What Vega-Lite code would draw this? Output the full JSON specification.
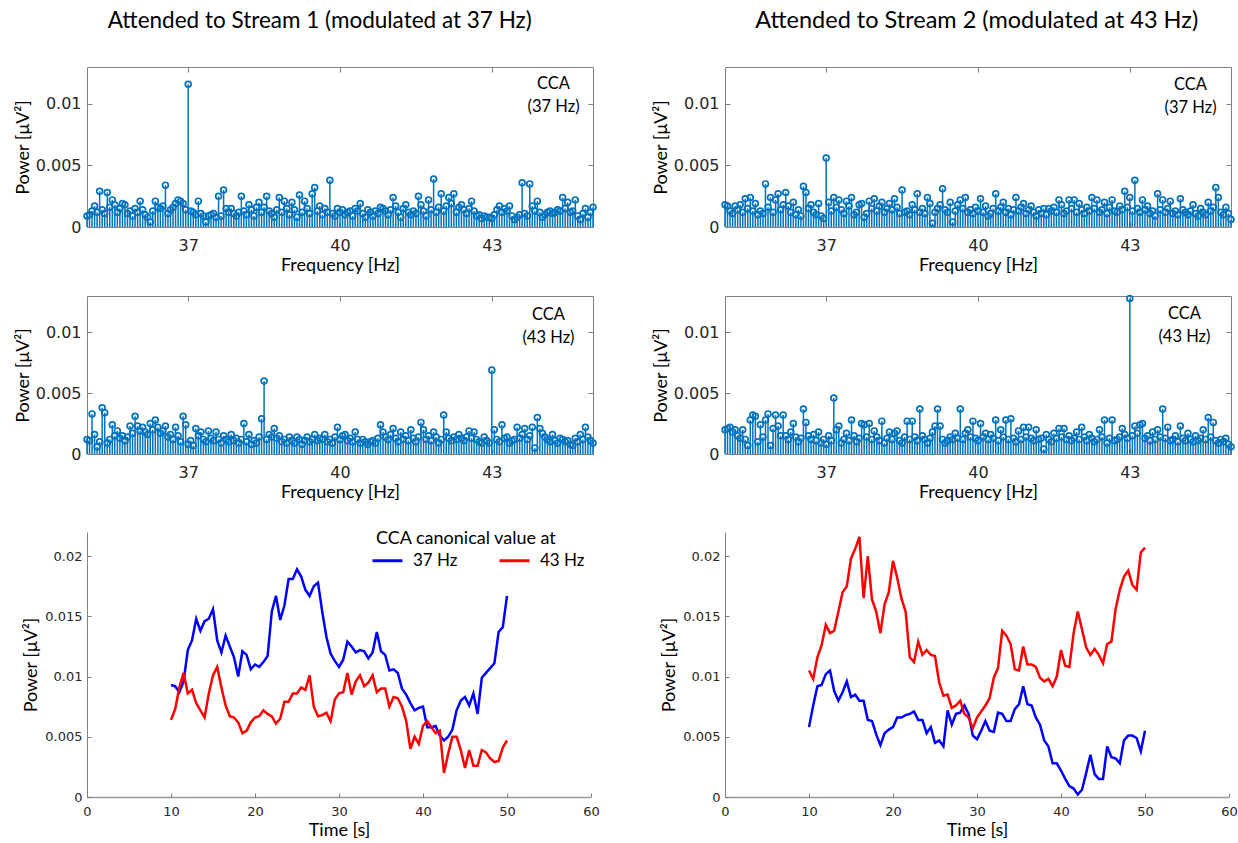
{
"$schema":"https://vega.github.io/schema/vega-lite/v6.json",
"background":"white",
"padding":{"left":13,"top":8,"right":4,"bottom":4},
"config":{"view":{"stroke":null},
"axis":{"labelFont":"DejaVu Sans","labelColor":"#262626","titleFont":"Lato","titleFontWeight":"normal","titleColor":"#000000","domainColor":"#808080","tickColor":"#808080","grid":false,"labelFlush":false},
"legend":{"titleFont":"Lato","labelFont":"Lato"},
"title":{"font":"Lato","fontWeight":"normal","fontSize":22.5,"color":"#000000"},
"text":{"font":"Lato","fontSize":16.5,"lineBreak":"\n","lineHeight":23,"align":"center","baseline":"alphabetic","color":"#000000"}},
"resolve":{"scale":{"color":"independent"},"legend":{"color":"independent"}},
"datasets":{
"stems":[
{"f":35,"a":0.0009,"b":0.0012,"c":0.0018,"d":0.002},
{"f":35.05,"a":0.001,"b":0.0011,"c":0.0017,"d":0.0021},
{"f":35.1,"a":0.0013,"b":0.0033,"c":0.0013,"d":0.0022},
{"f":35.15,"a":0.0017,"b":0.0016,"c":0.0011,"d":0.0018},
{"f":35.2,"a":0.0012,"b":0.0006,"c":0.0017,"d":0.002},
{"f":35.25,"a":0.0029,"b":0.001,"c":0.0014,"d":0.0015},
{"f":35.3,"a":0.0014,"b":0.0038,"c":0.0018,"d":0.0013},
{"f":35.35,"a":0.0011,"b":0.0034,"c":0.0012,"d":0.002},
{"f":35.4,"a":0.0028,"b":0.0009,"c":0.0023,"d":0.0012},
{"f":35.45,"a":0.0016,"b":0.0012,"c":0.0015,"d":0.0007},
{"f":35.5,"a":0.0022,"b":0.0024,"c":0.0024,"d":0.0028},
{"f":35.55,"a":0.0018,"b":0.0015,"c":0.0013,"d":0.0032},
{"f":35.6,"a":0.0012,"b":0.0019,"c":0.0019,"d":0.0031},
{"f":35.65,"a":0.0015,"b":0.0013,"c":0.001,"d":0.001},
{"f":35.7,"a":0.0019,"b":0.0015,"c":0.0013,"d":0.0024},
{"f":35.75,"a":0.0018,"b":0.0011,"c":0.0011,"d":0.0014},
{"f":35.8,"a":0.0011,"b":0.0014,"c":0.0035,"d":0.0028},
{"f":35.85,"a":0.0013,"b":0.0023,"c":0.0016,"d":0.0033},
{"f":35.9,"a":0.0009,"b":0.0017,"c":0.0024,"d":0.0007},
{"f":35.95,"a":0.0015,"b":0.0031,"c":0.0012,"d":0.0021},
{"f":36,"a":0.0012,"b":0.0023,"c":0.0022,"d":0.0032},
{"f":36.05,"a":0.0021,"b":0.0019,"c":0.0027,"d":0.0023},
{"f":36.1,"a":0.0014,"b":0.0022,"c":0.0014,"d":0.0015},
{"f":36.15,"a":0.001,"b":0.0018,"c":0.0018,"d":0.0032},
{"f":36.2,"a":0.0008,"b":0.0016,"c":0.0028,"d":0.0015},
{"f":36.25,"a":0.0004,"b":0.0025,"c":0.0017,"d":0.0012},
{"f":36.3,"a":0.0013,"b":0.002,"c":0.0012,"d":0.0018},
{"f":36.35,"a":0.0021,"b":0.0028,"c":0.002,"d":0.0025},
{"f":36.4,"a":0.0016,"b":0.0022,"c":0.001,"d":0.0014},
{"f":36.45,"a":0.0015,"b":0.0017,"c":0.0014,"d":0.001},
{"f":36.5,"a":0.0017,"b":0.0019,"c":0.0009,"d":0.0013},
{"f":36.55,"a":0.0034,"b":0.0023,"c":0.0033,"d":0.0037},
{"f":36.6,"a":0.0011,"b":0.0014,"c":0.0028,"d":0.0026},
{"f":36.65,"a":0.0014,"b":0.0016,"c":0.0015,"d":0.0015},
{"f":36.7,"a":0.0016,"b":0.0012,"c":0.0018,"d":0.0012},
{"f":36.75,"a":0.0019,"b":0.0022,"c":0.0012,"d":0.0016},
{"f":36.8,"a":0.0022,"b":0.0015,"c":0.001,"d":0.0011},
{"f":36.85,"a":0.0021,"b":0.001,"c":0.0019,"d":0.0018},
{"f":36.9,"a":0.0019,"b":0.0031,"c":0.0009,"d":0.0009},
{"f":36.95,"a":0.0014,"b":0.0024,"c":0.0007,"d":0.0012},
{"f":37,"a":0.0116,"b":0.0008,"c":0.0056,"d":0.0008},
{"f":37.05,"a":0.0013,"b":0.0011,"c":0.002,"d":0.0015},
{"f":37.1,"a":0.0012,"b":0.0007,"c":0.0013,"d":0.0011},
{"f":37.15,"a":0.001,"b":0.0021,"c":0.0024,"d":0.0046},
{"f":37.2,"a":0.0021,"b":0.0015,"c":0.0016,"d":0.002},
{"f":37.25,"a":0.0011,"b":0.0018,"c":0.0022,"d":0.0023},
{"f":37.3,"a":0.0009,"b":0.0012,"c":0.0014,"d":0.0009},
{"f":37.35,"a":0.0004,"b":0.001,"c":0.0011,"d":0.0012},
{"f":37.4,"a":0.0009,"b":0.0019,"c":0.0021,"d":0.0017},
{"f":37.45,"a":0.001,"b":0.0013,"c":0.0017,"d":0.0011},
{"f":37.5,"a":0.0011,"b":0.0011,"c":0.0024,"d":0.0028},
{"f":37.55,"a":0.0008,"b":0.0018,"c":0.001,"d":0.0015},
{"f":37.6,"a":0.0025,"b":0.0012,"c":0.0012,"d":0.001},
{"f":37.65,"a":0.0009,"b":0.0009,"c":0.0018,"d":0.0013},
{"f":37.7,"a":0.003,"b":0.0015,"c":0.0019,"d":0.0025},
{"f":37.75,"a":0.0015,"b":0.0012,"c":0.0008,"d":0.0024},
{"f":37.8,"a":0.0012,"b":0.001,"c":0.0011,"d":0.0014},
{"f":37.85,"a":0.0015,"b":0.0016,"c":0.0021,"d":0.0025},
{"f":37.9,"a":0.0011,"b":0.0011,"c":0.0015,"d":0.0012},
{"f":37.95,"a":0.0009,"b":0.0013,"c":0.0023,"d":0.0019},
{"f":38,"a":0.0012,"b":0.0009,"c":0.0013,"d":0.0014},
{"f":38.05,"a":0.0025,"b":0.0012,"c":0.0017,"d":0.0011},
{"f":38.1,"a":0.0013,"b":0.0025,"c":0.002,"d":0.0027},
{"f":38.15,"a":0.001,"b":0.001,"c":0.0012,"d":0.0009},
{"f":38.2,"a":0.0018,"b":0.0016,"c":0.0015,"d":0.0013},
{"f":38.25,"a":0.0014,"b":0.0008,"c":0.0019,"d":0.0018},
{"f":38.3,"a":0.0009,"b":0.0011,"c":0.0014,"d":0.0012},
{"f":38.35,"a":0.0016,"b":0.0009,"c":0.0023,"d":0.0017},
{"f":38.4,"a":0.002,"b":0.0014,"c":0.0016,"d":0.0019},
{"f":38.45,"a":0.0012,"b":0.0029,"c":0.0011,"d":0.0011},
{"f":38.5,"a":0.0016,"b":0.006,"c":0.003,"d":0.0009},
{"f":38.55,"a":0.0025,"b":0.0012,"c":0.0012,"d":0.0014},
{"f":38.6,"a":0.0013,"b":0.0016,"c":0.0013,"d":0.0027},
{"f":38.65,"a":0.0011,"b":0.0014,"c":0.001,"d":0.0012},
{"f":38.7,"a":0.0008,"b":0.0021,"c":0.0018,"d":0.0027},
{"f":38.75,"a":0.0014,"b":0.0013,"c":0.0014,"d":0.0014},
{"f":38.8,"a":0.0024,"b":0.0015,"c":0.0027,"d":0.0011},
{"f":38.85,"a":0.0012,"b":0.001,"c":0.0012,"d":0.0037},
{"f":38.9,"a":0.0021,"b":0.0012,"c":0.0015,"d":0.0015},
{"f":38.95,"a":0.0015,"b":0.0009,"c":0.0011,"d":0.0012},
{"f":39,"a":0.001,"b":0.0014,"c":0.0024,"d":0.0009},
{"f":39.05,"a":0.002,"b":0.0011,"c":0.0019,"d":0.0013},
{"f":39.1,"a":0.0014,"b":0.0009,"c":0.0003,"d":0.0018},
{"f":39.15,"a":0.0008,"b":0.0014,"c":0.0012,"d":0.0023},
{"f":39.2,"a":0.0026,"b":0.0012,"c":0.0015,"d":0.0037},
{"f":39.25,"a":0.0012,"b":0.0008,"c":0.0018,"d":0.0023},
{"f":39.3,"a":0.0021,"b":0.0011,"c":0.0031,"d":0.0012},
{"f":39.35,"a":0.0015,"b":0.0014,"c":0.0014,"d":0.0009},
{"f":39.4,"a":0.0011,"b":0.001,"c":0.0012,"d":0.0011},
{"f":39.45,"a":0.0027,"b":0.0012,"c":0.002,"d":0.0014},
{"f":39.5,"a":0.0032,"b":0.0016,"c":0.0004,"d":0.0012},
{"f":39.55,"a":0.0013,"b":0.0011,"c":0.0013,"d":0.0017},
{"f":39.6,"a":0.0017,"b":0.0013,"c":0.0018,"d":0.0013},
{"f":39.65,"a":0.001,"b":0.0012,"c":0.0022,"d":0.0037},
{"f":39.7,"a":0.0015,"b":0.0016,"c":0.0015,"d":0.0012},
{"f":39.75,"a":0.0012,"b":0.001,"c":0.0024,"d":0.0017},
{"f":39.8,"a":0.0038,"b":0.0012,"c":0.0012,"d":0.002},
{"f":39.85,"a":0.0011,"b":0.0009,"c":0.0014,"d":0.0014},
{"f":39.9,"a":0.0009,"b":0.0014,"c":0.0011,"d":0.0027},
{"f":39.95,"a":0.0015,"b":0.0022,"c":0.0016,"d":0.0013},
{"f":40,"a":0.0012,"b":0.0012,"c":0.0013,"d":0.0011},
{"f":40.05,"a":0.0014,"b":0.0015,"c":0.0023,"d":0.0025},
{"f":40.1,"a":0.001,"b":0.0016,"c":0.0012,"d":0.0014},
{"f":40.15,"a":0.0012,"b":0.0011,"c":0.0017,"d":0.0017},
{"f":40.2,"a":0.0013,"b":0.0013,"c":0.0009,"d":0.0012},
{"f":40.25,"a":0.0009,"b":0.001,"c":0.0011,"d":0.0016},
{"f":40.3,"a":0.0015,"b":0.0018,"c":0.0015,"d":0.0013},
{"f":40.35,"a":0.0013,"b":0.0012,"c":0.0027,"d":0.0028},
{"f":40.4,"a":0.0019,"b":0.0009,"c":0.0013,"d":0.0011},
{"f":40.45,"a":0.0011,"b":0.0012,"c":0.0016,"d":0.002},
{"f":40.5,"a":0.0008,"b":0.001,"c":0.002,"d":0.0014},
{"f":40.55,"a":0.0014,"b":0.0008,"c":0.0012,"d":0.0028},
{"f":40.6,"a":0.0012,"b":0.001,"c":0.0015,"d":0.0012},
{"f":40.65,"a":0.0009,"b":0.0011,"c":0.001,"d":0.0029},
{"f":40.7,"a":0.0013,"b":0.0009,"c":0.0014,"d":0.0013},
{"f":40.75,"a":0.0011,"b":0.0013,"c":0.0024,"d":0.001},
{"f":40.8,"a":0.0016,"b":0.0024,"c":0.0013,"d":0.0019},
{"f":40.85,"a":0.0015,"b":0.0018,"c":0.0016,"d":0.0012},
{"f":40.9,"a":0.0013,"b":0.0014,"c":0.0019,"d":0.0022},
{"f":40.95,"a":0.001,"b":0.0012,"c":0.0011,"d":0.0014},
{"f":41,"a":0.0014,"b":0.0016,"c":0.0014,"d":0.0022},
{"f":41.05,"a":0.0024,"b":0.0021,"c":0.0017,"d":0.0013},
{"f":41.1,"a":0.0017,"b":0.0013,"c":0.0012,"d":0.0011},
{"f":41.15,"a":0.0012,"b":0.001,"c":0.0009,"d":0.002},
{"f":41.2,"a":0.0008,"b":0.0018,"c":0.0014,"d":0.0012},
{"f":41.25,"a":0.0015,"b":0.0012,"c":0.0011,"d":0.0013},
{"f":41.3,"a":0.0018,"b":0.0015,"c":0.0015,"d":0.0004},
{"f":41.35,"a":0.0012,"b":0.0011,"c":0.001,"d":0.0016},
{"f":41.4,"a":0.001,"b":0.002,"c":0.0015,"d":0.0012},
{"f":41.45,"a":0.0013,"b":0.0013,"c":0.0013,"d":0.001},
{"f":41.5,"a":0.0011,"b":0.001,"c":0.0016,"d":0.0017},
{"f":41.55,"a":0.0025,"b":0.0014,"c":0.0012,"d":0.0013},
{"f":41.6,"a":0.0018,"b":0.0026,"c":0.0022,"d":0.0021},
{"f":41.65,"a":0.0013,"b":0.002,"c":0.0018,"d":0.0014},
{"f":41.7,"a":0.0009,"b":0.0012,"c":0.0011,"d":0.0021},
{"f":41.75,"a":0.0022,"b":0.0015,"c":0.0013,"d":0.0012},
{"f":41.8,"a":0.0014,"b":0.0011,"c":0.0022,"d":0.0015},
{"f":41.85,"a":0.0039,"b":0.0018,"c":0.0015,"d":0.0011},
{"f":41.9,"a":0.0012,"b":0.0014,"c":0.0022,"d":0.0013},
{"f":41.95,"a":0.0016,"b":0.0009,"c":0.0012,"d":0.0018},
{"f":42,"a":0.0027,"b":0.0012,"c":0.0019,"d":0.0012},
{"f":42.05,"a":0.0013,"b":0.0032,"c":0.0014,"d":0.0022},
{"f":42.1,"a":0.0017,"b":0.0018,"c":0.0011,"d":0.0014},
{"f":42.15,"a":0.0024,"b":0.0013,"c":0.0016,"d":0.0011},
{"f":42.2,"a":0.0019,"b":0.0011,"c":0.0013,"d":0.0016},
{"f":42.25,"a":0.0027,"b":0.0014,"c":0.0024,"d":0.0013},
{"f":42.3,"a":0.0012,"b":0.0012,"c":0.0015,"d":0.001},
{"f":42.35,"a":0.0016,"b":0.0016,"c":0.0022,"d":0.0012},
{"f":42.4,"a":0.0018,"b":0.0013,"c":0.0012,"d":0.002},
{"f":42.45,"a":0.0014,"b":0.0011,"c":0.0014,"d":0.0014},
{"f":42.5,"a":0.0011,"b":0.0014,"c":0.002,"d":0.0028},
{"f":42.55,"a":0.0015,"b":0.0019,"c":0.0011,"d":0.0009},
{"f":42.6,"a":0.0021,"b":0.0013,"c":0.0016,"d":0.0013},
{"f":42.65,"a":0.0013,"b":0.0018,"c":0.0022,"d":0.0028},
{"f":42.7,"a":0.0009,"b":0.0012,"c":0.0013,"d":0.0011},
{"f":42.75,"a":0.001,"b":0.001,"c":0.0012,"d":0.0012},
{"f":42.8,"a":0.0007,"b":0.0009,"c":0.0017,"d":0.0014},
{"f":42.85,"a":0.0009,"b":0.0014,"c":0.0014,"d":0.0021},
{"f":42.9,"a":0.0008,"b":0.0011,"c":0.0029,"d":0.0016},
{"f":42.95,"a":0.0008,"b":0.0009,"c":0.0016,"d":0.0013},
{"f":43,"a":0.0007,"b":0.0069,"c":0.0024,"d":0.0128},
{"f":43.05,"a":0.001,"b":0.002,"c":0.0013,"d":0.0015},
{"f":43.1,"a":0.0014,"b":0.0012,"c":0.0038,"d":0.0023},
{"f":43.15,"a":0.0017,"b":0.001,"c":0.0015,"d":0.0017},
{"f":43.2,"a":0.0012,"b":0.0024,"c":0.0012,"d":0.0024},
{"f":43.25,"a":0.0015,"b":0.0013,"c":0.0022,"d":0.0025},
{"f":43.3,"a":0.0013,"b":0.0014,"c":0.0014,"d":0.0013},
{"f":43.35,"a":0.0017,"b":0.0009,"c":0.0017,"d":0.0015},
{"f":43.4,"a":0.0009,"b":0.0011,"c":0.0011,"d":0.0011},
{"f":43.45,"a":0.0006,"b":0.0012,"c":0.0013,"d":0.0018},
{"f":43.5,"a":0.0008,"b":0.0022,"c":0.0009,"d":0.0012},
{"f":43.55,"a":0.001,"b":0.0013,"c":0.0027,"d":0.002},
{"f":43.6,"a":0.0036,"b":0.0016,"c":0.0014,"d":0.0014},
{"f":43.65,"a":0.0011,"b":0.0021,"c":0.0022,"d":0.0037},
{"f":43.7,"a":0.0009,"b":0.0012,"c":0.0012,"d":0.0013},
{"f":43.75,"a":0.0035,"b":0.0015,"c":0.0015,"d":0.0022},
{"f":43.8,"a":0.0017,"b":0.0022,"c":0.0021,"d":0.0011},
{"f":43.85,"a":0.0013,"b":0.0005,"c":0.0011,"d":0.0012},
{"f":43.9,"a":0.0021,"b":0.003,"c":0.0013,"d":0.0015},
{"f":43.95,"a":0.0012,"b":0.0021,"c":0.001,"d":0.001},
{"f":44,"a":0.0008,"b":0.0017,"c":0.0023,"d":0.0023},
{"f":44.05,"a":0.001,"b":0.0014,"c":0.0014,"d":0.0013},
{"f":44.1,"a":0.0012,"b":0.0012,"c":0.0012,"d":0.0011},
{"f":44.15,"a":0.0013,"b":0.001,"c":0.001,"d":0.0017},
{"f":44.2,"a":0.0011,"b":0.0016,"c":0.0013,"d":0.0012},
{"f":44.25,"a":0.0012,"b":0.0011,"c":0.0018,"d":0.001},
{"f":44.3,"a":0.0014,"b":0.0009,"c":0.0011,"d":0.0015},
{"f":44.35,"a":0.0013,"b":0.0013,"c":0.0009,"d":0.0011},
{"f":44.4,"a":0.0024,"b":0.0012,"c":0.0015,"d":0.0013},
{"f":44.45,"a":0.0015,"b":0.001,"c":0.0012,"d":0.002},
{"f":44.5,"a":0.002,"b":0.0011,"c":0.001,"d":0.0012},
{"f":44.55,"a":0.0012,"b":0.0008,"c":0.002,"d":0.003},
{"f":44.6,"a":0.0013,"b":0.0007,"c":0.0013,"d":0.0014},
{"f":44.65,"a":0.0022,"b":0.0013,"c":0.0016,"d":0.0026},
{"f":44.7,"a":0.0009,"b":0.001,"c":0.0032,"d":0.0011},
{"f":44.75,"a":0.0006,"b":0.0016,"c":0.0024,"d":0.0009},
{"f":44.8,"a":0.0011,"b":0.0012,"c":0.0012,"d":0.0012},
{"f":44.85,"a":0.0015,"b":0.0022,"c":0.001,"d":0.001},
{"f":44.9,"a":0.0008,"b":0.0014,"c":0.0016,"d":0.0013},
{"f":44.95,"a":0.0012,"b":0.0011,"c":0.0011,"d":0.0008},
{"f":45,"a":0.0016,"b":0.0009,"c":0.0006,"d":0.0006}
],
"L":[
{"t":10,"s":"37 Hz","v":0.0093},{"t":10.5,"s":"37 Hz","v":0.0092},{"t":11,"s":"37 Hz","v":0.0087},{"t":11.5,"s":"37 Hz","v":0.0096},{"t":12,"s":"37 Hz","v":0.0122},{"t":12.5,"s":"37 Hz","v":0.013},{"t":13,"s":"37 Hz","v":0.0148},{"t":13.5,"s":"37 Hz","v":0.0138},{"t":14,"s":"37 Hz","v":0.0146},{"t":14.5,"s":"37 Hz","v":0.0148},{"t":15,"s":"37 Hz","v":0.0156},{"t":15.5,"s":"37 Hz","v":0.013},{"t":16,"s":"37 Hz","v":0.012},{"t":16.5,"s":"37 Hz","v":0.0134},{"t":17,"s":"37 Hz","v":0.0125},{"t":17.5,"s":"37 Hz","v":0.0116},{"t":18,"s":"37 Hz","v":0.01},{"t":18.5,"s":"37 Hz","v":0.0121},{"t":19,"s":"37 Hz","v":0.0118},{"t":19.5,"s":"37 Hz","v":0.0106},{"t":20,"s":"37 Hz","v":0.011},{"t":20.5,"s":"37 Hz","v":0.0108},{"t":21,"s":"37 Hz","v":0.0112},{"t":21.5,"s":"37 Hz","v":0.0117},{"t":22,"s":"37 Hz","v":0.0154},{"t":22.5,"s":"37 Hz","v":0.0167},{"t":23,"s":"37 Hz","v":0.0147},{"t":23.5,"s":"37 Hz","v":0.0159},{"t":24,"s":"37 Hz","v":0.0181},{"t":24.5,"s":"37 Hz","v":0.0181},{"t":25,"s":"37 Hz","v":0.0189},{"t":25.5,"s":"37 Hz","v":0.0183},{"t":26,"s":"37 Hz","v":0.0172},{"t":26.5,"s":"37 Hz","v":0.0167},{"t":27,"s":"37 Hz","v":0.0175},{"t":27.5,"s":"37 Hz","v":0.0178},{"t":28,"s":"37 Hz","v":0.0154},{"t":28.5,"s":"37 Hz","v":0.0133},{"t":29,"s":"37 Hz","v":0.0119},{"t":29.5,"s":"37 Hz","v":0.0113},{"t":30,"s":"37 Hz","v":0.0108},{"t":30.5,"s":"37 Hz","v":0.0114},{"t":31,"s":"37 Hz","v":0.0129},{"t":31.5,"s":"37 Hz","v":0.0125},{"t":32,"s":"37 Hz","v":0.012},{"t":32.5,"s":"37 Hz","v":0.0122},{"t":33,"s":"37 Hz","v":0.0121},{"t":33.5,"s":"37 Hz","v":0.0115},{"t":34,"s":"37 Hz","v":0.012},{"t":34.5,"s":"37 Hz","v":0.0137},{"t":35,"s":"37 Hz","v":0.0121},{"t":35.5,"s":"37 Hz","v":0.0118},{"t":36,"s":"37 Hz","v":0.0105},{"t":36.5,"s":"37 Hz","v":0.0106},{"t":37,"s":"37 Hz","v":0.0103},{"t":37.5,"s":"37 Hz","v":0.009},{"t":38,"s":"37 Hz","v":0.0085},{"t":38.5,"s":"37 Hz","v":0.0078},{"t":39,"s":"37 Hz","v":0.0072},{"t":39.5,"s":"37 Hz","v":0.0074},{"t":40,"s":"37 Hz","v":0.0075},{"t":40.5,"s":"37 Hz","v":0.0058},{"t":41,"s":"37 Hz","v":0.0058},{"t":41.5,"s":"37 Hz","v":0.0059},{"t":42,"s":"37 Hz","v":0.0051},{"t":42.5,"s":"37 Hz","v":0.0047},{"t":43,"s":"37 Hz","v":0.005},{"t":43.5,"s":"37 Hz","v":0.0056},{"t":44,"s":"37 Hz","v":0.0072},{"t":44.5,"s":"37 Hz","v":0.008},{"t":45,"s":"37 Hz","v":0.0083},{"t":45.5,"s":"37 Hz","v":0.0076},{"t":46,"s":"37 Hz","v":0.0086},{"t":46.5,"s":"37 Hz","v":0.0069},{"t":47,"s":"37 Hz","v":0.0099},{"t":47.5,"s":"37 Hz","v":0.0103},{"t":48,"s":"37 Hz","v":0.0107},{"t":48.5,"s":"37 Hz","v":0.0111},{"t":49,"s":"37 Hz","v":0.0137},{"t":49.5,"s":"37 Hz","v":0.0141},{"t":50,"s":"37 Hz","v":0.0167},
{"t":10,"s":"43 Hz","v":0.0064},{"t":10.5,"s":"43 Hz","v":0.0073},{"t":11,"s":"43 Hz","v":0.0091},{"t":11.5,"s":"43 Hz","v":0.0103},{"t":12,"s":"43 Hz","v":0.0086},{"t":12.5,"s":"43 Hz","v":0.0089},{"t":13,"s":"43 Hz","v":0.0078},{"t":13.5,"s":"43 Hz","v":0.0072},{"t":14,"s":"43 Hz","v":0.0066},{"t":14.5,"s":"43 Hz","v":0.0086},{"t":15,"s":"43 Hz","v":0.0101},{"t":15.5,"s":"43 Hz","v":0.0108},{"t":16,"s":"43 Hz","v":0.0091},{"t":16.5,"s":"43 Hz","v":0.0076},{"t":17,"s":"43 Hz","v":0.0067},{"t":17.5,"s":"43 Hz","v":0.0066},{"t":18,"s":"43 Hz","v":0.0062},{"t":18.5,"s":"43 Hz","v":0.0053},{"t":19,"s":"43 Hz","v":0.0055},{"t":19.5,"s":"43 Hz","v":0.0062},{"t":20,"s":"43 Hz","v":0.0066},{"t":20.5,"s":"43 Hz","v":0.0067},{"t":21,"s":"43 Hz","v":0.0072},{"t":21.5,"s":"43 Hz","v":0.0069},{"t":22,"s":"43 Hz","v":0.0067},{"t":22.5,"s":"43 Hz","v":0.0061},{"t":23,"s":"43 Hz","v":0.0065},{"t":23.5,"s":"43 Hz","v":0.0079},{"t":24,"s":"43 Hz","v":0.0079},{"t":24.5,"s":"43 Hz","v":0.0086},{"t":25,"s":"43 Hz","v":0.0086},{"t":25.5,"s":"43 Hz","v":0.0091},{"t":26,"s":"43 Hz","v":0.0089},{"t":26.5,"s":"43 Hz","v":0.0101},{"t":27,"s":"43 Hz","v":0.0075},{"t":27.5,"s":"43 Hz","v":0.0067},{"t":28,"s":"43 Hz","v":0.0068},{"t":28.5,"s":"43 Hz","v":0.007},{"t":29,"s":"43 Hz","v":0.0063},{"t":29.5,"s":"43 Hz","v":0.0081},{"t":30,"s":"43 Hz","v":0.0086},{"t":30.5,"s":"43 Hz","v":0.0087},{"t":31,"s":"43 Hz","v":0.0103},{"t":31.5,"s":"43 Hz","v":0.0085},{"t":32,"s":"43 Hz","v":0.0096},{"t":32.5,"s":"43 Hz","v":0.0101},{"t":33,"s":"43 Hz","v":0.0092},{"t":33.5,"s":"43 Hz","v":0.0095},{"t":34,"s":"43 Hz","v":0.0101},{"t":34.5,"s":"43 Hz","v":0.0087},{"t":35,"s":"43 Hz","v":0.009},{"t":35.5,"s":"43 Hz","v":0.009},{"t":36,"s":"43 Hz","v":0.0075},{"t":36.5,"s":"43 Hz","v":0.0083},{"t":37,"s":"43 Hz","v":0.0082},{"t":37.5,"s":"43 Hz","v":0.0075},{"t":38,"s":"43 Hz","v":0.0063},{"t":38.5,"s":"43 Hz","v":0.004},{"t":39,"s":"43 Hz","v":0.005},{"t":39.5,"s":"43 Hz","v":0.0044},{"t":40,"s":"43 Hz","v":0.0059},{"t":40.5,"s":"43 Hz","v":0.0063},{"t":41,"s":"43 Hz","v":0.0058},{"t":41.5,"s":"43 Hz","v":0.0053},{"t":42,"s":"43 Hz","v":0.0055},{"t":42.5,"s":"43 Hz","v":0.002},{"t":43,"s":"43 Hz","v":0.0036},{"t":43.5,"s":"43 Hz","v":0.005},{"t":44,"s":"43 Hz","v":0.005},{"t":44.5,"s":"43 Hz","v":0.0039},{"t":45,"s":"43 Hz","v":0.0024},{"t":45.5,"s":"43 Hz","v":0.0039},{"t":46,"s":"43 Hz","v":0.0026},{"t":46.5,"s":"43 Hz","v":0.0026},{"t":47,"s":"43 Hz","v":0.0039},{"t":47.5,"s":"43 Hz","v":0.0037},{"t":48,"s":"43 Hz","v":0.0032},{"t":48.5,"s":"43 Hz","v":0.0029},{"t":49,"s":"43 Hz","v":0.003},{"t":49.5,"s":"43 Hz","v":0.0041},{"t":50,"s":"43 Hz","v":0.0047}
],
"R":[
{"t":10,"s":"37 Hz","v":0.0058},{"t":10.5,"s":"37 Hz","v":0.0076},{"t":11,"s":"37 Hz","v":0.0092},{"t":11.5,"s":"37 Hz","v":0.0093},{"t":12,"s":"37 Hz","v":0.0102},{"t":12.5,"s":"37 Hz","v":0.0105},{"t":13,"s":"37 Hz","v":0.0088},{"t":13.5,"s":"37 Hz","v":0.008},{"t":14,"s":"37 Hz","v":0.0087},{"t":14.5,"s":"37 Hz","v":0.0096},{"t":15,"s":"37 Hz","v":0.0083},{"t":15.5,"s":"37 Hz","v":0.0085},{"t":16,"s":"37 Hz","v":0.008},{"t":16.5,"s":"37 Hz","v":0.008},{"t":17,"s":"37 Hz","v":0.0064},{"t":17.5,"s":"37 Hz","v":0.0063},{"t":18,"s":"37 Hz","v":0.0052},{"t":18.5,"s":"37 Hz","v":0.0043},{"t":19,"s":"37 Hz","v":0.0053},{"t":19.5,"s":"37 Hz","v":0.0056},{"t":20,"s":"37 Hz","v":0.0058},{"t":20.5,"s":"37 Hz","v":0.0066},{"t":21,"s":"37 Hz","v":0.0066},{"t":21.5,"s":"37 Hz","v":0.0068},{"t":22,"s":"37 Hz","v":0.0069},{"t":22.5,"s":"37 Hz","v":0.0071},{"t":23,"s":"37 Hz","v":0.0064},{"t":23.5,"s":"37 Hz","v":0.0064},{"t":24,"s":"37 Hz","v":0.0053},{"t":24.5,"s":"37 Hz","v":0.0058},{"t":25,"s":"37 Hz","v":0.0045},{"t":25.5,"s":"37 Hz","v":0.0047},{"t":26,"s":"37 Hz","v":0.0042},{"t":26.5,"s":"37 Hz","v":0.0072},{"t":27,"s":"37 Hz","v":0.006},{"t":27.5,"s":"37 Hz","v":0.0069},{"t":28,"s":"37 Hz","v":0.007},{"t":28.5,"s":"37 Hz","v":0.0076},{"t":29,"s":"37 Hz","v":0.0069},{"t":29.5,"s":"37 Hz","v":0.0051},{"t":30,"s":"37 Hz","v":0.0048},{"t":30.5,"s":"37 Hz","v":0.0055},{"t":31,"s":"37 Hz","v":0.0063},{"t":31.5,"s":"37 Hz","v":0.0055},{"t":32,"s":"37 Hz","v":0.0054},{"t":32.5,"s":"37 Hz","v":0.007},{"t":33,"s":"37 Hz","v":0.0069},{"t":33.5,"s":"37 Hz","v":0.0063},{"t":34,"s":"37 Hz","v":0.0063},{"t":34.5,"s":"37 Hz","v":0.0073},{"t":35,"s":"37 Hz","v":0.0077},{"t":35.5,"s":"37 Hz","v":0.0092},{"t":36,"s":"37 Hz","v":0.0077},{"t":36.5,"s":"37 Hz","v":0.0076},{"t":37,"s":"37 Hz","v":0.0066},{"t":37.5,"s":"37 Hz","v":0.006},{"t":38,"s":"37 Hz","v":0.0047},{"t":38.5,"s":"37 Hz","v":0.0042},{"t":39,"s":"37 Hz","v":0.0028},{"t":39.5,"s":"37 Hz","v":0.0028},{"t":40,"s":"37 Hz","v":0.0022},{"t":40.5,"s":"37 Hz","v":0.0015},{"t":41,"s":"37 Hz","v":0.0009},{"t":41.5,"s":"37 Hz","v":0.0007},{"t":42,"s":"37 Hz","v":0.0002},{"t":42.5,"s":"37 Hz","v":0.0006},{"t":43,"s":"37 Hz","v":0.002},{"t":43.5,"s":"37 Hz","v":0.0035},{"t":44,"s":"37 Hz","v":0.0019},{"t":44.5,"s":"37 Hz","v":0.0015},{"t":45,"s":"37 Hz","v":0.0015},{"t":45.5,"s":"37 Hz","v":0.0042},{"t":46,"s":"37 Hz","v":0.0033},{"t":46.5,"s":"37 Hz","v":0.0032},{"t":47,"s":"37 Hz","v":0.0028},{"t":47.5,"s":"37 Hz","v":0.0047},{"t":48,"s":"37 Hz","v":0.0051},{"t":48.5,"s":"37 Hz","v":0.0051},{"t":49,"s":"37 Hz","v":0.0049},{"t":49.5,"s":"37 Hz","v":0.0038},{"t":50,"s":"37 Hz","v":0.0055},
{"t":10,"s":"43 Hz","v":0.0105},{"t":10.5,"s":"43 Hz","v":0.0098},{"t":11,"s":"43 Hz","v":0.0116},{"t":11.5,"s":"43 Hz","v":0.0126},{"t":12,"s":"43 Hz","v":0.0143},{"t":12.5,"s":"43 Hz","v":0.0136},{"t":13,"s":"43 Hz","v":0.0138},{"t":13.5,"s":"43 Hz","v":0.0154},{"t":14,"s":"43 Hz","v":0.017},{"t":14.5,"s":"43 Hz","v":0.0175},{"t":15,"s":"43 Hz","v":0.0198},{"t":15.5,"s":"43 Hz","v":0.0206},{"t":16,"s":"43 Hz","v":0.0216},{"t":16.5,"s":"43 Hz","v":0.0165},{"t":17,"s":"43 Hz","v":0.02},{"t":17.5,"s":"43 Hz","v":0.0164},{"t":18,"s":"43 Hz","v":0.0154},{"t":18.5,"s":"43 Hz","v":0.0136},{"t":19,"s":"43 Hz","v":0.016},{"t":19.5,"s":"43 Hz","v":0.017},{"t":20,"s":"43 Hz","v":0.0196},{"t":20.5,"s":"43 Hz","v":0.0182},{"t":21,"s":"43 Hz","v":0.0165},{"t":21.5,"s":"43 Hz","v":0.0154},{"t":22,"s":"43 Hz","v":0.0116},{"t":22.5,"s":"43 Hz","v":0.0112},{"t":23,"s":"43 Hz","v":0.0129},{"t":23.5,"s":"43 Hz","v":0.0118},{"t":24,"s":"43 Hz","v":0.0122},{"t":24.5,"s":"43 Hz","v":0.0118},{"t":25,"s":"43 Hz","v":0.0117},{"t":25.5,"s":"43 Hz","v":0.0095},{"t":26,"s":"43 Hz","v":0.0084},{"t":26.5,"s":"43 Hz","v":0.0085},{"t":27,"s":"43 Hz","v":0.0074},{"t":27.5,"s":"43 Hz","v":0.0076},{"t":28,"s":"43 Hz","v":0.008},{"t":28.5,"s":"43 Hz","v":0.0069},{"t":29,"s":"43 Hz","v":0.0066},{"t":29.5,"s":"43 Hz","v":0.0057},{"t":30,"s":"43 Hz","v":0.0066},{"t":30.5,"s":"43 Hz","v":0.0071},{"t":31,"s":"43 Hz","v":0.0076},{"t":31.5,"s":"43 Hz","v":0.0082},{"t":32,"s":"43 Hz","v":0.0099},{"t":32.5,"s":"43 Hz","v":0.0107},{"t":33,"s":"43 Hz","v":0.0138},{"t":33.5,"s":"43 Hz","v":0.0134},{"t":34,"s":"43 Hz","v":0.0127},{"t":34.5,"s":"43 Hz","v":0.0106},{"t":35,"s":"43 Hz","v":0.0105},{"t":35.5,"s":"43 Hz","v":0.0125},{"t":36,"s":"43 Hz","v":0.011},{"t":36.5,"s":"43 Hz","v":0.011},{"t":37,"s":"43 Hz","v":0.0108},{"t":37.5,"s":"43 Hz","v":0.0099},{"t":38,"s":"43 Hz","v":0.0096},{"t":38.5,"s":"43 Hz","v":0.0098},{"t":39,"s":"43 Hz","v":0.0092},{"t":39.5,"s":"43 Hz","v":0.01},{"t":40,"s":"43 Hz","v":0.0122},{"t":40.5,"s":"43 Hz","v":0.0109},{"t":41,"s":"43 Hz","v":0.0108},{"t":41.5,"s":"43 Hz","v":0.0136},{"t":42,"s":"43 Hz","v":0.0154},{"t":42.5,"s":"43 Hz","v":0.0139},{"t":43,"s":"43 Hz","v":0.0124},{"t":43.5,"s":"43 Hz","v":0.0118},{"t":44,"s":"43 Hz","v":0.0123},{"t":44.5,"s":"43 Hz","v":0.0118},{"t":45,"s":"43 Hz","v":0.0111},{"t":45.5,"s":"43 Hz","v":0.0127},{"t":46,"s":"43 Hz","v":0.0129},{"t":46.5,"s":"43 Hz","v":0.0156},{"t":47,"s":"43 Hz","v":0.0172},{"t":47.5,"s":"43 Hz","v":0.0183},{"t":48,"s":"43 Hz","v":0.0188},{"t":48.5,"s":"43 Hz","v":0.0176},{"t":49,"s":"43 Hz","v":0.0172},{"t":49.5,"s":"43 Hz","v":0.0203},{"t":50,"s":"43 Hz","v":0.0207}
]
},
"hconcat":[
{"title":{"text":"Attended to Stream 1 (modulated at 37 Hz)","anchor":"middle","offset":34,"dx":13},
"spacing":28,
"resolve":{"scale":{"color":"independent"},"legend":{"color":"independent"}},
"vconcat":[
{"spacing":20,"vconcat":[
{"width":506,"height":160,"view":{"stroke":"#808080"},
"resolve":{"axis":{"x":"independent","y":"independent"}},
"layer":[
{"data":{"name":"stems"},"mark":{"type":"rule","color":"#0072BD","strokeWidth":1.5},
"encoding":{"x":{"field":"f","type":"quantitative","scale":{"domain":[35,45],"nice":false,"zero":false},"axis":{"values":[37,40,43],"title":"Frequency [Hz]","titleFontSize":18,"titleFont":"Lato","labelFont":"DejaVu Sans","labelFontSize":16,"tickSize":-5,"labelPadding":15,"titlePadding":3,"domain":false}},
"y":{"field":"a","type":"quantitative","scale":{"domain":[0,0.013],"nice":false},"axis":{"values":[0,0.005,0.01],"format":"~g","title":"Power [μV²]","titleFontSize":18,"titleFont":"Lato","labelFont":"DejaVu Sans","labelFontSize":16,"tickSize":-5,"labelPadding":11,"titlePadding":3,"domain":false}},
"y2":{"datum":0}}},
{"data":{"name":"stems"},"mark":{"type":"point","shape":"circle","filled":false,"color":"#0072BD","strokeWidth":1.7,"size":34,"opacity":1},
"encoding":{"x":{"field":"f","type":"quantitative","axis":{"orient":"top","values":[37,40,43],"labels":false,"title":null,"tickSize":-5,"domain":false}},
"y":{"field":"a","type":"quantitative","axis":{"orient":"right","values":[0,0.005,0.01],"labels":false,"title":null,"tickSize":-5,"domain":false}}}},
{"data":{"values":[{"lab":"CCA\n(37 Hz)"}]},"mark":{"type":"text"},"encoding":{"x":{"datum":44.22,"type":"quantitative","axis":null},"y":{"datum":0.0112,"type":"quantitative","axis":null},"text":{"field":"lab","type":"nominal"}}}
]},
{"width":506,"height":158,"view":{"stroke":"#808080"},
"resolve":{"axis":{"x":"independent","y":"independent"}},
"layer":[
{"data":{"name":"stems"},"mark":{"type":"rule","color":"#0072BD","strokeWidth":1.5},
"encoding":{"x":{"field":"f","type":"quantitative","scale":{"domain":[35,45],"nice":false,"zero":false},"axis":{"values":[37,40,43],"title":"Frequency [Hz]","titleFontSize":18,"titleFont":"Lato","labelFont":"DejaVu Sans","labelFontSize":16,"tickSize":-5,"labelPadding":15,"titlePadding":3,"domain":false}},
"y":{"field":"b","type":"quantitative","scale":{"domain":[0,0.013],"nice":false},"axis":{"values":[0,0.005,0.01],"format":"~g","title":"Power [μV²]","titleFontSize":18,"titleFont":"Lato","labelFont":"DejaVu Sans","labelFontSize":16,"tickSize":-5,"labelPadding":11,"titlePadding":3,"domain":false}},
"y2":{"datum":0}}},
{"data":{"name":"stems"},"mark":{"type":"point","shape":"circle","filled":false,"color":"#0072BD","strokeWidth":1.7,"size":34,"opacity":1},
"encoding":{"x":{"field":"f","type":"quantitative","axis":{"orient":"top","values":[37,40,43],"labels":false,"title":null,"tickSize":-5,"domain":false}},
"y":{"field":"b","type":"quantitative","axis":{"orient":"right","values":[0,0.005,0.01],"labels":false,"title":null,"tickSize":-5,"domain":false}}}},
{"data":{"values":[{"lab":"CCA\n(43 Hz)"}]},"mark":{"type":"text"},"encoding":{"x":{"datum":44.12,"type":"quantitative","axis":null},"y":{"datum":0.011,"type":"quantitative","axis":null},"text":{"field":"lab","type":"nominal"}}}
]}
]},
{"width":504,"height":265,"data":{"name":"L"},
"mark":{"type":"line","strokeWidth":2.5},
"encoding":{
"x":{"field":"t","type":"quantitative","scale":{"domain":[0,60],"nice":false},"axis":{"values":[0,10,20,30,40,50,60],"title":"Time [s]","titleFontSize":18,"titleFont":"Lato","labelFont":"DejaVu Sans","labelFontSize":13,"tickSize":-4,"labelPadding":12,"titlePadding":3,"domainDash":[1,1],"domainColor":"#333333","domainWidth":1.5}},
"y":{"field":"v","type":"quantitative","scale":{"domain":[0,0.022],"nice":false},"axis":{"values":[0,0.005,0.01,0.015,0.02],"format":"~g","title":"Power [μV²]","titleFontSize":18,"titleFont":"Lato","labelFont":"DejaVu Sans","labelFontSize":13,"tickSize":-4,"labelPadding":9,"titlePadding":4}},
"color":{"field":"s","type":"nominal","scale":{"domain":["37 Hz","43 Hz"],"range":["#0000FF","#FF0000"]},
"legend":{"title":"CCA canonical value at","orient":"none","legendX":289,"legendY":-2,"direction":"horizontal","titleFontSize":18,"titleLimit":400,"labelFontSize":17,"titleFont":"Lato","labelFont":"Lato","titleFontWeight":"normal","titleColor":"#000000","labelColor":"#000000","titleAnchor":"start","symbolType":"M-1.5,0H1.5","symbolStrokeWidth":3,"symbolSize":400,"columnPadding":35,"titlePadding":1,"labelOffset":14}}}}
]},
{"title":{"text":"Attended to Stream 2 (modulated at 43 Hz)","anchor":"middle","offset":34,"dx":32,"fontSize":23.5},
"spacing":29,
"resolve":{"scale":{"color":"independent"},"legend":{"color":"independent"}},
"vconcat":[
{"spacing":16,"vconcat":[
{"width":506,"height":160,"view":{"stroke":"#808080"},
"resolve":{"axis":{"x":"independent","y":"independent"}},
"layer":[
{"data":{"name":"stems"},"mark":{"type":"rule","color":"#0072BD","strokeWidth":1.5},
"encoding":{"x":{"field":"f","type":"quantitative","scale":{"domain":[35,45],"nice":false,"zero":false},"axis":{"values":[37,40,43],"title":"Frequency [Hz]","titleFontSize":18,"titleFont":"Lato","labelFont":"DejaVu Sans","labelFontSize":16,"tickSize":-5,"labelPadding":15,"titlePadding":3,"domain":false}},
"y":{"field":"c","type":"quantitative","scale":{"domain":[0,0.013],"nice":false},"axis":{"values":[0,0.005,0.01],"format":"~g","title":"Power [μV²]","titleFontSize":18,"titleFont":"Lato","labelFont":"DejaVu Sans","labelFontSize":16,"tickSize":-5,"labelPadding":11,"titlePadding":3,"domain":false}},
"y2":{"datum":0}}},
{"data":{"name":"stems"},"mark":{"type":"point","shape":"circle","filled":false,"color":"#0072BD","strokeWidth":1.7,"size":34,"opacity":1},
"encoding":{"x":{"field":"f","type":"quantitative","axis":{"orient":"top","values":[37,40,43],"labels":false,"title":null,"tickSize":-5,"domain":false}},
"y":{"field":"c","type":"quantitative","axis":{"orient":"right","values":[0,0.005,0.01],"labels":false,"title":null,"tickSize":-5,"domain":false}}}},
{"data":{"values":[{"lab":"CCA\n(37 Hz)"}]},"mark":{"type":"text"},"encoding":{"x":{"datum":44.2,"type":"quantitative","axis":null},"y":{"datum":0.0111,"type":"quantitative","axis":null},"text":{"field":"lab","type":"nominal"}}}
]},
{"width":506,"height":158,"view":{"stroke":"#808080"},
"resolve":{"axis":{"x":"independent","y":"independent"}},
"layer":[
{"data":{"name":"stems"},"mark":{"type":"rule","color":"#0072BD","strokeWidth":1.5},
"encoding":{"x":{"field":"f","type":"quantitative","scale":{"domain":[35,45],"nice":false,"zero":false},"axis":{"values":[37,40,43],"title":"Frequency [Hz]","titleFontSize":18,"titleFont":"Lato","labelFont":"DejaVu Sans","labelFontSize":16,"tickSize":-5,"labelPadding":15,"titlePadding":3,"domain":false}},
"y":{"field":"d","type":"quantitative","scale":{"domain":[0,0.013],"nice":false},"axis":{"values":[0,0.005,0.01],"format":"~g","title":"Power [μV²]","titleFontSize":18,"titleFont":"Lato","labelFont":"DejaVu Sans","labelFontSize":16,"tickSize":-5,"labelPadding":11,"titlePadding":3,"domain":false}},
"y2":{"datum":0}}},
{"data":{"name":"stems"},"mark":{"type":"point","shape":"circle","filled":false,"color":"#0072BD","strokeWidth":1.7,"size":34,"opacity":1},
"encoding":{"x":{"field":"f","type":"quantitative","axis":{"orient":"top","values":[37,40,43],"labels":false,"title":null,"tickSize":-5,"domain":false}},
"y":{"field":"d","type":"quantitative","axis":{"orient":"right","values":[0,0.005,0.01],"labels":false,"title":null,"tickSize":-5,"domain":false}}}},
{"data":{"values":[{"lab":"CCA\n(43 Hz)"}]},"mark":{"type":"text"},"encoding":{"x":{"datum":44.08,"type":"quantitative","axis":null},"y":{"datum":0.0111,"type":"quantitative","axis":null},"text":{"field":"lab","type":"nominal"}}}
]}
]},
{"width":504,"height":265,"data":{"name":"R"},
"mark":{"type":"line","strokeWidth":2.5},
"encoding":{
"x":{"field":"t","type":"quantitative","scale":{"domain":[0,60],"nice":false},"axis":{"values":[0,10,20,30,40,50,60],"title":"Time [s]","titleFontSize":18,"titleFont":"Lato","labelFont":"DejaVu Sans","labelFontSize":13,"tickSize":-4,"labelPadding":12,"titlePadding":3,"domainDash":[1,1],"domainColor":"#333333","domainWidth":1.5}},
"y":{"field":"v","type":"quantitative","scale":{"domain":[0,0.022],"nice":false},"axis":{"values":[0,0.005,0.01,0.015,0.02],"format":"~g","title":"Power [μV²]","titleFontSize":18,"titleFont":"Lato","labelFont":"DejaVu Sans","labelFontSize":13,"tickSize":-4,"labelPadding":9,"titlePadding":4}},
"color":{"field":"s","type":"nominal","scale":{"domain":["37 Hz","43 Hz"],"range":["#0000FF","#FF0000"]},"legend":null}}}
]}
],
"spacing":51
}
